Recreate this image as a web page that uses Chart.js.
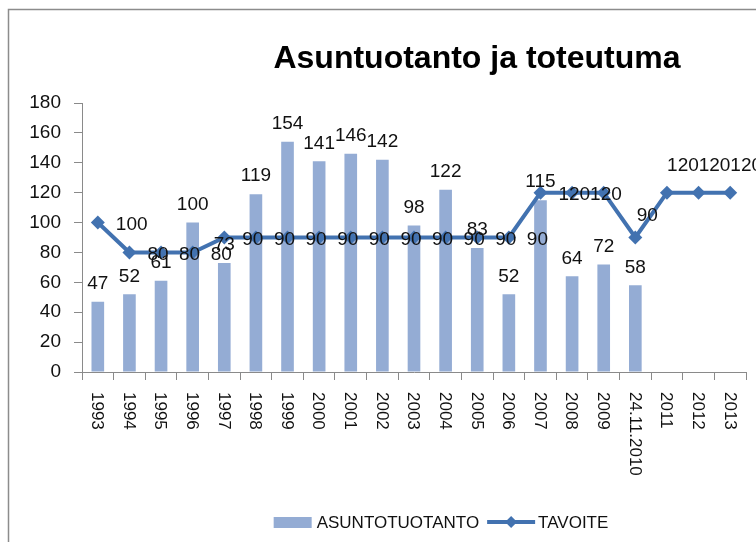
<!DOCTYPE html>
<html>
<head>
<meta charset="utf-8">
<title>Asuntuotanto ja toteutuma</title>
<script src="https://cdn.jsdelivr.net/npm/chart.js"></script>
<style>
  html, body { margin: 0; padding: 0; background: #fff; }
  #wrap { width: 756px; height: 542px; position: relative; }
</style>
</head>
<body>
<div id="wrap"><canvas id="myChart" width="756" height="542"></canvas></div>
<script>
// chart data
const categories = ['1993', '1994', '1995', '1996', '1997', '1998', '1999', '2000', '2001', '2002',
    '2003', '2004', '2005', '2006', '2007', '2008', '2009', '24.11.2010', '2011', '2012', '2013'];
const asuntotuotanto = [47, 52, 61, 100, 73, 119, 154, 141, 146, 142, 98, 122, 83, 52, 115, 64, 72, 58, null, null, null];
const tavoite = [100, 80, 80, 80, 90, 90, 90, 90, 90, 90, 90, 90, 90, 90, 120, 120, 120, 90, 120, 120, 120];
const yTicks = [0, 20, 40, 60, 80, 100, 120, 140, 160, 180];

// where the TAVOITE value label sits relative to its point
const lineLabelPlacement = ['right', 'right', 'right', 'right', 'right', 'right', 'right', 'right', 'right', 'right',
    'right', 'right', 'right', 'right', 'right', 'right', 'none', 'aboveRight', 'above', 'above', 'above'];

const titleText = 'Asuntuotanto ja toteutuma';
const barColor = '#94acd4';
const lineColor = '#4272b0';
const axisColor = '#8a8a8a';
const FONT = "'Liberation Sans', Arial, sans-serif";

// frame, title, rotated category labels, value labels and legend
const decorations = {
    id: 'decorations',
    beforeDraw(chart) {
        const ctx = chart.ctx;
        ctx.save();
        ctx.fillStyle = '#fff';
        ctx.fillRect(0, 0, chart.width, chart.height);
        ctx.strokeStyle = '#8c8c8c';
        ctx.lineWidth = 1.5;
        ctx.beginPath();
        ctx.moveTo(8.5, chart.height);
        ctx.lineTo(8.5, 9.5);
        ctx.lineTo(chart.width, 9.5);
        ctx.stroke();
        ctx.restore();
    },
    afterDatasetsDraw(chart) {
        const ctx = chart.ctx;
        const xScale = chart.scales.x;
        ctx.save();

        // title
        ctx.fillStyle = '#000';
        ctx.font = 'bold 32px ' + FONT;
        ctx.textAlign = 'center';
        ctx.textBaseline = 'alphabetic';
        ctx.fillText(titleText, 477, 68);

        // category labels, rotated clockwise
        ctx.font = '17px ' + FONT;
        ctx.fillStyle = '#111';
        categories.forEach((c, i) => {
            const x = xScale.getPixelForValue(i);
            ctx.save();
            ctx.translate(x - 1, xScale.top + 20);
            ctx.rotate(Math.PI / 2);
            ctx.textAlign = 'left';
            ctx.textBaseline = 'middle';
            ctx.fillText(c, 0, 0);
            ctx.restore();
        });

        // value labels
        ctx.font = '19px ' + FONT;
        ctx.fillStyle = '#111';
        const barMeta = chart.getDatasetMeta(1);
        barMeta.data.forEach((el, i) => {
            if (asuntotuotanto[i] == null) return;
            ctx.textAlign = 'center';
            ctx.textBaseline = 'middle';
            ctx.fillText(String(asuntotuotanto[i]), el.x, el.y - 18);
        });
        const lineMeta = chart.getDatasetMeta(0);
        lineMeta.data.forEach((el, i) => {
            const pos = lineLabelPlacement[i];
            ctx.textBaseline = 'middle';
            if (pos === 'right') {
                ctx.textAlign = 'left';
                ctx.fillText(String(tavoite[i]), el.x + 18, el.y + 2);
            } else if (pos === 'aboveRight') {
                ctx.textAlign = 'center';
                ctx.fillText(String(tavoite[i]), el.x + 12, el.y - 22);
            } else if (pos === 'above') {
                ctx.textAlign = 'center';
                ctx.fillText(String(tavoite[i]), el.x + 16, el.y - 27);
            }
        });

        // legend
        ctx.font = '17px ' + FONT;
        const names = ['ASUNTOTUOTANTO', 'TAVOITE'];
        const w1 = ctx.measureText(names[0]).width;
        const w2 = ctx.measureText(names[1]).width;
        const total = 38 + 5 + w1 + 8 + 48 + 3 + w2;
        let lx = 441 - total / 2;
        const ly = 522;
        ctx.fillStyle = barColor;
        ctx.fillRect(lx, ly - 5, 38, 11);
        lx += 43;
        ctx.fillStyle = '#111';
        ctx.textAlign = 'left';
        ctx.textBaseline = 'middle';
        ctx.fillText(names[0], lx, ly + 1);
        lx += w1 + 8;
        ctx.strokeStyle = lineColor;
        ctx.lineWidth = 4;
        ctx.beginPath();
        ctx.moveTo(lx, ly);
        ctx.lineTo(lx + 48, ly);
        ctx.stroke();
        ctx.fillStyle = lineColor;
        ctx.beginPath();
        ctx.moveTo(lx + 24, ly - 6);
        ctx.lineTo(lx + 30, ly);
        ctx.lineTo(lx + 24, ly + 6);
        ctx.lineTo(lx + 18, ly);
        ctx.closePath();
        ctx.fill();
        lx += 51;
        ctx.fillStyle = '#111';
        ctx.fillText(names[1], lx, ly + 1);

        ctx.restore();
    }
};

const ctx = document.getElementById('myChart').getContext('2d');
const myChart = new Chart(ctx, {
    type: 'bar',
    data: {
        labels: categories,
        datasets: [{
            type: 'line',
            label: 'TAVOITE',
            data: tavoite,
            borderColor: lineColor,
            backgroundColor: lineColor,
            borderWidth: 4,
            pointStyle: 'rectRot',
            pointRadius: 7,
            pointBorderWidth: 0,
            tension: 0,
            order: 0
        }, {
            type: 'bar',
            label: 'ASUNTOTUOTANTO',
            data: asuntotuotanto,
            backgroundColor: barColor,
            borderWidth: 0,
            barPercentage: 0.8,
            categoryPercentage: 0.5,
            order: 1
        }]
    },
    options: {
        responsive: false,
        animation: false,
        layout: {
            padding: { top: 103, right: 10, bottom: 0, left: 0 }
        },
        plugins: {
            legend: { display: false },
            title: { display: false },
            tooltip: { enabled: false }
        },
        scales: {
            x: {
                ticks: { display: false },
                grid: {
                    drawOnChartArea: false,
                    drawTicks: true,
                    tickLength: 8,
                    offset: true,
                    color: axisColor
                },
                border: { color: axisColor, width: 1 },
                afterFit(scale) { scale.height = 170; }
            },
            y: {
                min: yTicks[0],
                max: yTicks[yTicks.length - 1],
                afterBuildTicks(scale) {
                    scale.ticks = yTicks.map(v => ({ value: v }));
                },
                ticks: {
                    color: '#111',
                    padding: 13,
                    font: { family: FONT, size: 19 }
                },
                grid: {
                    drawOnChartArea: false,
                    drawTicks: true,
                    tickLength: 8,
                    color: axisColor
                },
                border: { color: axisColor, width: 1 },
                afterFit(scale) { scale.width = 82; }
            }
        }
    },
    plugins: [decorations]
});
</script>
</body>
</html>
